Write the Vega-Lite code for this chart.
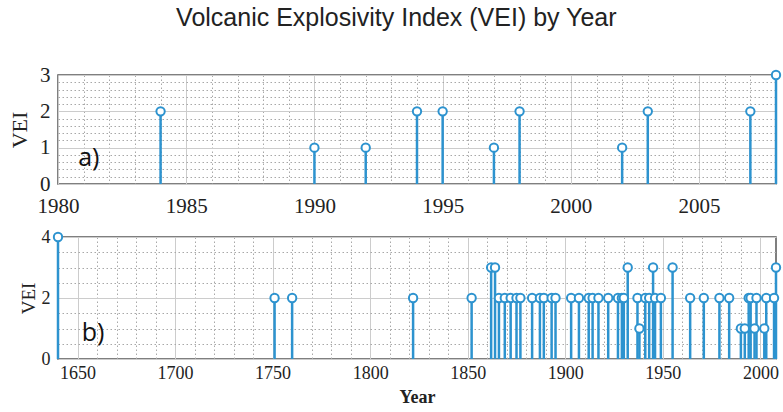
{
  "$schema": "https://vega.github.io/schema/vega-lite/v6.json",
  "background": "white",
  "padding": {"left": 7, "top": 6, "right": 4, "bottom": 2},
  "title": {"text": "Volcanic Explosivity Index (VEI) by Year", "font": "Liberation Sans", "fontSize": 25, "fontWeight": "normal", "color": "#222", "anchor": "middle", "offset": 32},
  "spacing": 10,
  "datasets": {
    "recent": [
      {"Year": 1984, "VEI": 2}, {"Year": 1990, "VEI": 1}, {"Year": 1992, "VEI": 1},
      {"Year": 1994, "VEI": 2}, {"Year": 1995, "VEI": 2}, {"Year": 1997, "VEI": 1},
      {"Year": 1998, "VEI": 2}, {"Year": 2002, "VEI": 1}, {"Year": 2003, "VEI": 2},
      {"Year": 2007, "VEI": 2}, {"Year": 2008, "VEI": 3}
    ],
    "history": [
      {"Year": 1640, "VEI": 4}, {"Year": 1751, "VEI": 2}, {"Year": 1760, "VEI": 2},
      {"Year": 1822, "VEI": 2}, {"Year": 1852, "VEI": 2}, {"Year": 1862, "VEI": 3},
      {"Year": 1864, "VEI": 3}, {"Year": 1866, "VEI": 2}, {"Year": 1869, "VEI": 2},
      {"Year": 1872, "VEI": 2}, {"Year": 1875, "VEI": 2}, {"Year": 1877, "VEI": 2},
      {"Year": 1883, "VEI": 2}, {"Year": 1887, "VEI": 2}, {"Year": 1889, "VEI": 2},
      {"Year": 1893, "VEI": 2}, {"Year": 1895, "VEI": 2}, {"Year": 1903, "VEI": 2},
      {"Year": 1907, "VEI": 2}, {"Year": 1912, "VEI": 2}, {"Year": 1914, "VEI": 2},
      {"Year": 1917, "VEI": 2}, {"Year": 1922, "VEI": 2}, {"Year": 1927, "VEI": 2},
      {"Year": 1929, "VEI": 2}, {"Year": 1930, "VEI": 2}, {"Year": 1932, "VEI": 3},
      {"Year": 1937, "VEI": 2}, {"Year": 1938, "VEI": 1}, {"Year": 1941, "VEI": 2},
      {"Year": 1943, "VEI": 2}, {"Year": 1945, "VEI": 3}, {"Year": 1946, "VEI": 2},
      {"Year": 1949, "VEI": 2}, {"Year": 1955, "VEI": 3}, {"Year": 1964, "VEI": 2},
      {"Year": 1971, "VEI": 2}, {"Year": 1979, "VEI": 2}, {"Year": 1984, "VEI": 2},
      {"Year": 1990, "VEI": 1}, {"Year": 1992, "VEI": 1}, {"Year": 1994, "VEI": 2},
      {"Year": 1995, "VEI": 2}, {"Year": 1997, "VEI": 1}, {"Year": 1998, "VEI": 2},
      {"Year": 2002, "VEI": 1}, {"Year": 2003, "VEI": 2}, {"Year": 2007, "VEI": 2},
      {"Year": 2008, "VEI": 3}
    ]
  },
  "config": {
    "view": {"stroke": "#555", "strokeWidth": 1.5},
    "axis": {"domain": false, "ticks": false, "labelFont": "Liberation Serif", "titleFont": "Liberation Serif", "labelColor": "#222", "titleColor": "#222", "titleFontWeight": "normal", "gridWidth": 1, "labelOverlap": false, "labelFlush": false, "labelBound": false}
  },
  "vconcat": [
    {
      "width": 718,
      "height": 109,
      "data": {"name": "recent"},
      "layer": [
        {
          "mark": {"type": "rule", "color": "#2d93cf", "strokeWidth": 2.5},
          "encoding": {
            "x": {"field": "Year", "type": "quantitative",
              "scale": {"domain": [1980, 2008], "nice": false, "zero": false},
              "axis": {"values": [1980,1981,1982,1983,1984,1985,1986,1987,1988,1989,1990,1991,1992,1993,1994,1995,1996,1997,1998,1999,2000,2001,2002,2003,2004,2005,2006,2007,2008],
                "labelExpr": "datum.value % 5 === 0 ? toString(datum.value) : ''", "labelFont": "Liberation Serif",
                "labelFontSize": 21, "labelPadding": 11, "title": null,
                "gridColor": {"condition": {"test": "datum.value % 5 === 0", "value": "#cccccc"}, "value": "#a8a8a8"},
                "gridDash": {"condition": {"test": "datum.value % 5 === 0", "value": []}, "value": [1.5, 2.5]}}},
            "y": {"field": "VEI", "type": "quantitative",
              "scale": {"domain": [0, 3], "nice": false},
              "axis": {"values": [0,0.2,0.4,0.6,0.8,1,1.2,1.4,1.6,1.8,2,2.2,2.4,2.6,2.8,3],
                "labelExpr": "abs(datum.value - round(datum.value)) < 0.001 ? toString(round(datum.value)) : ''", "labelFont": "Liberation Serif",
                "labelFontSize": 21, "labelPadding": 8, "title": "VEI", "titleFontSize": 22, "titlePadding": 8,
                "gridColor": {"condition": {"test": "abs(datum.value - round(datum.value)) < 0.001", "value": "#cccccc"}, "value": "#a8a8a8"},
                "gridDash": {"condition": {"test": "abs(datum.value - round(datum.value)) < 0.001", "value": []}, "value": [1.5, 2.5]}}},
            "y2": {"datum": 0}
          }
        },
        {
          "mark": {"type": "point", "filled": true, "fill": "white", "stroke": "#2d93cf", "strokeWidth": 2, "size": 70, "opacity": 1, "clip": false},
          "encoding": {
            "x": {"field": "Year", "type": "quantitative",
              "axis": {"values": [1980,1981,1982,1983,1984,1985,1986,1987,1988,1989,1990,1991,1992,1993,1994,1995,1996,1997,1998,1999,2000,2001,2002,2003,2004,2005,2006,2007,2008],
                "labelExpr": "datum.value % 5 === 0 ? toString(datum.value) : ''", "labelFont": "Liberation Serif",
                "labelFontSize": 21, "labelPadding": 11, "title": null,
                "gridColor": {"condition": {"test": "datum.value % 5 === 0", "value": "#cccccc"}, "value": "#a8a8a8"},
                "gridDash": {"condition": {"test": "datum.value % 5 === 0", "value": []}, "value": [1.5, 2.5]}}},
            "y": {"field": "VEI", "type": "quantitative",
              "axis": {"values": [0,0.2,0.4,0.6,0.8,1,1.2,1.4,1.6,1.8,2,2.2,2.4,2.6,2.8,3],
                "labelExpr": "abs(datum.value - round(datum.value)) < 0.001 ? toString(round(datum.value)) : ''", "labelFont": "Liberation Serif",
                "labelFontSize": 21, "labelPadding": 8, "title": "VEI", "titleFontSize": 22, "titlePadding": 8,
                "gridColor": {"condition": {"test": "abs(datum.value - round(datum.value)) < 0.001", "value": "#cccccc"}, "value": "#a8a8a8"},
                "gridDash": {"condition": {"test": "abs(datum.value - round(datum.value)) < 0.001", "value": []}, "value": [1.5, 2.5]}}}
          }
        },
        {
          "data": {"values": [{"label": "a)"}]},
          "mark": {"type": "text", "font": "Open Sans", "fontSize": 25, "color": "#111", "align": "center", "baseline": "middle"},
          "encoding": {
            "x": {"datum": 1981.2, "type": "quantitative",
              "axis": {"values": [1980,1981,1982,1983,1984,1985,1986,1987,1988,1989,1990,1991,1992,1993,1994,1995,1996,1997,1998,1999,2000,2001,2002,2003,2004,2005,2006,2007,2008],
                "labelExpr": "datum.value % 5 === 0 ? toString(datum.value) : ''", "labelFont": "Liberation Serif",
                "labelFontSize": 21, "labelPadding": 11, "title": null,
                "gridColor": {"condition": {"test": "datum.value % 5 === 0", "value": "#cccccc"}, "value": "#a8a8a8"},
                "gridDash": {"condition": {"test": "datum.value % 5 === 0", "value": []}, "value": [1.5, 2.5]}}},
            "y": {"datum": 0.72, "type": "quantitative",
              "axis": {"values": [0,0.2,0.4,0.6,0.8,1,1.2,1.4,1.6,1.8,2,2.2,2.4,2.6,2.8,3],
                "labelExpr": "abs(datum.value - round(datum.value)) < 0.001 ? toString(round(datum.value)) : ''", "labelFont": "Liberation Serif",
                "labelFontSize": 21, "labelPadding": 8, "title": "VEI", "titleFontSize": 22, "titlePadding": 8,
                "gridColor": {"condition": {"test": "abs(datum.value - round(datum.value)) < 0.001", "value": "#cccccc"}, "value": "#a8a8a8"},
                "gridDash": {"condition": {"test": "abs(datum.value - round(datum.value)) < 0.001", "value": []}, "value": [1.5, 2.5]}}},
            "text": {"field": "label"}
          }
        }
      ]
    },
    {
      "width": 718,
      "height": 122,
      "data": {"name": "history"},
      "layer": [
        {
          "mark": {"type": "rule", "color": "#2d93cf", "strokeWidth": 2.5},
          "encoding": {
            "x": {"field": "Year", "type": "quantitative",
              "scale": {"domain": [1640, 2008], "nice": false, "zero": false},
              "axis": {"values": [1640,1650,1660,1670,1680,1690,1700,1710,1720,1730,1740,1750,1760,1770,1780,1790,1800,1810,1820,1830,1840,1850,1860,1870,1880,1890,1900,1910,1920,1930,1940,1950,1960,1970,1980,1990,2000],
                "labelExpr": "datum.value % 50 === 0 ? toString(datum.value) : ''", "labelFont": "Liberation Serif",
                "labelFontSize": 18, "labelPadding": 5, "title": "Year", "titleFontSize": 18, "titleFontWeight": "bold", "titlePadding": 6,
                "gridColor": {"condition": {"test": "datum.value % 50 === 0", "value": "#cccccc"}, "value": "#a8a8a8"},
                "gridDash": {"condition": {"test": "datum.value % 50 === 0", "value": []}, "value": [1.5, 2.5]}}},
            "y": {"field": "VEI", "type": "quantitative",
              "scale": {"domain": [0, 4], "nice": false},
              "axis": {"values": [0,0.5,1,1.5,2,2.5,3,3.5,4],
                "labelExpr": "datum.value % 2 === 0 ? toString(datum.value) : ''", "labelFont": "Liberation Serif",
                "labelFontSize": 18, "labelPadding": 8, "title": "VEI", "titleFontSize": 19, "titlePadding": 3,
                "gridColor": {"condition": {"test": "datum.value % 2 === 0", "value": "#cccccc"}, "value": "#a8a8a8"},
                "gridDash": {"condition": {"test": "datum.value % 2 === 0", "value": []}, "value": [1.5, 2.5]}}},
            "y2": {"datum": 0}
          }
        },
        {
          "mark": {"type": "point", "filled": true, "fill": "white", "stroke": "#2d93cf", "strokeWidth": 2, "size": 70, "opacity": 1, "clip": false},
          "encoding": {
            "x": {"field": "Year", "type": "quantitative",
              "axis": {"values": [1640,1650,1660,1670,1680,1690,1700,1710,1720,1730,1740,1750,1760,1770,1780,1790,1800,1810,1820,1830,1840,1850,1860,1870,1880,1890,1900,1910,1920,1930,1940,1950,1960,1970,1980,1990,2000],
                "labelExpr": "datum.value % 50 === 0 ? toString(datum.value) : ''", "labelFont": "Liberation Serif",
                "labelFontSize": 18, "labelPadding": 5, "title": "Year", "titleFontSize": 18, "titleFontWeight": "bold", "titlePadding": 6,
                "gridColor": {"condition": {"test": "datum.value % 50 === 0", "value": "#cccccc"}, "value": "#a8a8a8"},
                "gridDash": {"condition": {"test": "datum.value % 50 === 0", "value": []}, "value": [1.5, 2.5]}}},
            "y": {"field": "VEI", "type": "quantitative",
              "axis": {"values": [0,0.5,1,1.5,2,2.5,3,3.5,4],
                "labelExpr": "datum.value % 2 === 0 ? toString(datum.value) : ''", "labelFont": "Liberation Serif",
                "labelFontSize": 18, "labelPadding": 8, "title": "VEI", "titleFontSize": 19, "titlePadding": 3,
                "gridColor": {"condition": {"test": "datum.value % 2 === 0", "value": "#cccccc"}, "value": "#a8a8a8"},
                "gridDash": {"condition": {"test": "datum.value % 2 === 0", "value": []}, "value": [1.5, 2.5]}}}
          }
        },
        {
          "data": {"values": [{"label": "b)"}]},
          "mark": {"type": "text", "font": "Open Sans", "fontSize": 25, "color": "#111", "align": "center", "baseline": "middle"},
          "encoding": {
            "x": {"datum": 1658, "type": "quantitative",
              "axis": {"values": [1640,1650,1660,1670,1680,1690,1700,1710,1720,1730,1740,1750,1760,1770,1780,1790,1800,1810,1820,1830,1840,1850,1860,1870,1880,1890,1900,1910,1920,1930,1940,1950,1960,1970,1980,1990,2000],
                "labelExpr": "datum.value % 50 === 0 ? toString(datum.value) : ''", "labelFont": "Liberation Serif",
                "labelFontSize": 18, "labelPadding": 5, "title": "Year", "titleFontSize": 18, "titleFontWeight": "bold", "titlePadding": 6,
                "gridColor": {"condition": {"test": "datum.value % 50 === 0", "value": "#cccccc"}, "value": "#a8a8a8"},
                "gridDash": {"condition": {"test": "datum.value % 50 === 0", "value": []}, "value": [1.5, 2.5]}}},
            "y": {"datum": 0.84, "type": "quantitative",
              "axis": {"values": [0,0.5,1,1.5,2,2.5,3,3.5,4],
                "labelExpr": "datum.value % 2 === 0 ? toString(datum.value) : ''", "labelFont": "Liberation Serif",
                "labelFontSize": 18, "labelPadding": 8, "title": "VEI", "titleFontSize": 19, "titlePadding": 3,
                "gridColor": {"condition": {"test": "datum.value % 2 === 0", "value": "#cccccc"}, "value": "#a8a8a8"},
                "gridDash": {"condition": {"test": "datum.value % 2 === 0", "value": []}, "value": [1.5, 2.5]}}},
            "text": {"field": "label"}
          }
        }
      ]
    }
  ]
}
